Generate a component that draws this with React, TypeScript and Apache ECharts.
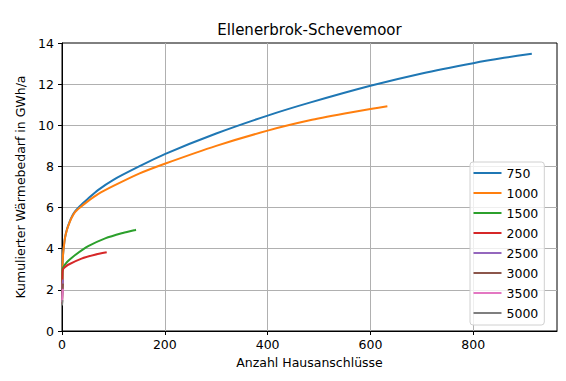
import React, { useEffect, useRef } from "react";
import * as echarts from "echarts";

const title = "Ellenerbrok-Schevemoor";
const xAxisName = "Anzahl Hausanschlüsse";
const yAxisName = "Kumulierter Wärmebedarf in GWh/a";

const seriesNames = ["750", "1000", "1500", "2000", "2500", "3000", "3500", "5000"];
const colors = ["#1f77b4", "#ff7f0e", "#2ca02c", "#d62728", "#9467bd", "#8c564b", "#e377c2", "#7f7f7f"];

const s750: number[][] = [
  [0, 1.3], [1, 3.1], [2, 3.7], [4, 4.2], [6, 4.55], [9, 4.88], [12, 5.12], [18, 5.5], [25, 5.8],
  [35, 6.08], [50, 6.42], [70, 6.85], [100, 7.35], [150, 8.0], [200, 8.6], [300, 9.6],
  [400, 10.47], [482, 11.1], [600, 11.92], [700, 12.52], [800, 13.02], [860, 13.28], [914, 13.48],
];
const s1000: number[][] = [
  [0, 1.3], [1, 3.1], [2, 3.7], [4, 4.2], [6, 4.55], [9, 4.86], [12, 5.1], [18, 5.47], [25, 5.77],
  [35, 6.0], [50, 6.3], [70, 6.65], [100, 7.05], [150, 7.65], [200, 8.13], [300, 9.0],
  [400, 9.74], [482, 10.24], [550, 10.57], [600, 10.79], [633, 10.93],
];
const s1500: number[][] = [
  [0, 1.3], [1, 3.0], [3, 3.12], [8, 3.3], [15, 3.47], [25, 3.68], [51, 4.12], [84, 4.5],
  [116, 4.75], [144, 4.92],
];
const s2000: number[][] = [
  [0, 1.3], [1, 2.85], [2, 3.0], [5, 3.09], [12, 3.22], [38, 3.52], [64, 3.71], [87, 3.83],
];
const s2500: number[][] = [[0, 1.6], [1, 2.2], [2, 2.5]];
const s3000: number[][] = [[0, 1.5], [1, 2.0], [2, 2.3]];
const s3500: number[][] = [[0, 1.4], [1, 1.8], [2, 2.05]];
const s5000: number[][] = [[0, 1.25], [1, 1.5]];

const allData = [s750, s1000, s1500, s2000, s2500, s3000, s3500, s5000];

const xMin = 0;
const xMax = 963;
const xInterval = 200;
const yMin = 0;
const yMax = 14;
const yInterval = 2;

const FONT = "DejaVu Sans";

export default function App() {
  const ref = useRef<HTMLDivElement>(null);
  useEffect(() => {
    if (!ref.current) return;
    const chart = echarts.init(ref.current, null, { renderer: "svg" });
    const gridLeft = 62, gridRight = 9, gridTop = 43, gridBottom = 50;
    const plotCenterX = gridLeft + (566 - gridLeft - gridRight) / 2;
    chart.setOption({
      animation: false,
      backgroundColor: "#ffffff",
      textStyle: { fontFamily: FONT },
      color: colors,
      grid: {
        left: gridLeft, right: gridRight, top: gridTop, bottom: gridBottom,
        show: true, borderColor: "#000", borderWidth: 1, backgroundColor: "transparent",
      },
      graphic: [
        {
          type: "text",
          style: {
            text: title, x: plotCenterX, y: 29.5, align: "center", verticalAlign: "middle",
            font: `15px "${FONT}"`, fill: "#000",
          },
        },
      ],
      legend: {
        orient: "vertical",
        left: 470, top: 162,
        data: seriesNames,
        icon: "rect",
        itemWidth: 28, itemHeight: 2, itemGap: 6, itemStyle: { borderWidth: 0 },
        textStyle: { fontFamily: FONT, fontSize: 12.5, color: "#000", lineHeight: 14 },
        padding: [4, 6, 5, 3.5],
        backgroundColor: "rgba(255,255,255,0.8)",
        borderColor: "#d0d0d0", borderWidth: 1, borderRadius: 3,
      },
      xAxis: {
        type: "value", min: xMin, max: xMax, interval: xInterval,
        name: xAxisName, nameLocation: "middle", nameGap: 23,
        nameTextStyle: { fontFamily: FONT, fontSize: 12.5, color: "#000" },
        axisLine: { show: true, onZero: false, lineStyle: { color: "#000", width: 1 } },
        axisTick: { show: true, inside: false, length: 4, lineStyle: { color: "#000" } },
        axisLabel: { fontFamily: FONT, fontSize: 12.5, color: "#000", margin: 7, showMaxLabel: false },
        splitLine: { show: true, showMinLine: false, showMaxLine: false, lineStyle: { color: "#b0b0b0", width: 1 } },
      },
      yAxis: {
        type: "value", min: yMin, max: yMax, interval: yInterval,
        name: yAxisName, nameLocation: "middle", nameGap: 33, nameRotate: 90,
        nameTextStyle: { fontFamily: FONT, fontSize: 12.5, color: "#000" },
        axisLine: { show: true, onZero: false, lineStyle: { color: "#000", width: 1 } },
        axisTick: { show: true, inside: false, length: 4, lineStyle: { color: "#000" } },
        axisLabel: { fontFamily: FONT, fontSize: 12.5, color: "#000", margin: 8 },
        splitLine: { show: true, showMinLine: false, showMaxLine: false, lineStyle: { color: "#b0b0b0", width: 1 } },
      },
      series: seriesNames.map((name, i) => ({
        name,
        type: "line",
        data: allData[i],
        showSymbol: false,
        symbol: "none",
        smooth: 0.2,
        lineStyle: { width: 2, color: colors[i] },
        itemStyle: { color: colors[i] },
        z: 2,
      })),
    });
    return () => chart.dispose();
  }, []);
  return (
    <div
      ref={ref}
      style={{ position: "fixed", left: 0, top: 0, width: 566, height: 381, background: "#fff" }}
    />
  );
}
